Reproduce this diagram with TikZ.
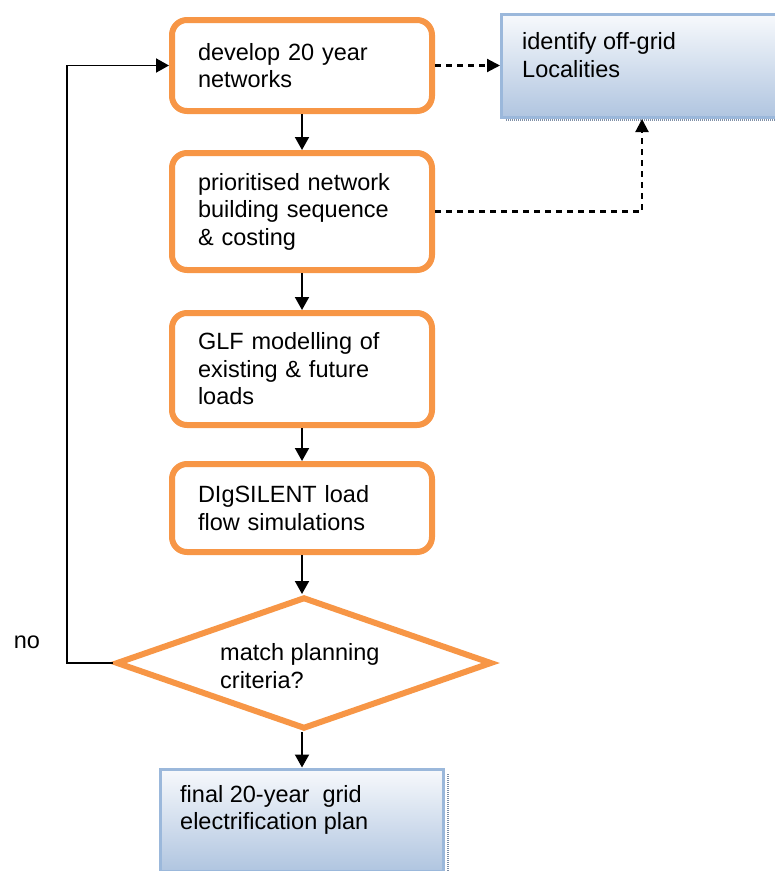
\documentclass[tikz,border=0pt]{standalone}
\usepackage{fontspec}
\setmainfont{Liberation Sans}
\usetikzlibrary{arrows.meta,shapes.geometric,calc}
\definecolor{orangeline}{HTML}{F79646}
\definecolor{bluetop}{HTML}{F7F9FC}
\definecolor{bluebot}{HTML}{B0C5E0}
\definecolor{blueline}{HTML}{9BB8DB}
\definecolor{shadowgray}{HTML}{7F8FA6}
\begin{document}
\begin{tikzpicture}[x=1pt,y=-1pt,
  every node/.style={font=\fontsize{23.5}{27.5}\selectfont},
  obox/.style={draw=orangeline, line width=6pt, rounded corners=15pt, fill=white,
    minimum width=260pt, text width=208pt, inner xsep=26pt, inner ysep=0pt, align=left},
  bbox/.style={draw=blueline, line width=3pt, shading=axis, top color=bluetop, bottom color=bluebot, inner sep=0pt},
  txt/.style={align=left, inner sep=0pt},
  arr/.style={line width=1.9pt, -{Triangle[length=13pt,width=14pt]}},
  darr/.style={line width=2.1pt, dash pattern=on 6pt off 5pt, -{Triangle[length=13pt,width=13pt]}},
  shad/.style={shadowgray, line width=2pt, dash pattern=on 1pt off 1pt}
]
\useasboundingbox (0,0) rectangle (775,871);

% orange process boxes
\node[obox, minimum height=91pt] (b1) at (302,65.5) {develop 20 year\\networks};
\node[obox, minimum height=117pt] (b2) at (302,211.5) {prioritised network\\building sequence\\\& costing};
\node[obox, minimum height=112pt] (b3) at (302,369) {GLF modelling of\\existing \& future\\loads};
\node[obox, minimum height=88pt] (b4) at (302,508) {DIgSILENT load\\flow simulations};

% decision diamond
\node[diamond, draw=orangeline, line width=6pt, fill=white, minimum width=376pt, minimum height=132pt, aspect=2.85, inner sep=0pt] (dia) at (304,663) {};
\node[txt, anchor=west] (diat) at (220,666) {match planning\\criteria?};

% blue boxes
\draw[shad] (506,120) -- (775,120);
\node[bbox, minimum width=300pt, minimum height=103pt] (og) at (651.5,66) {};
\node[txt, anchor=west] (ogt) at (522,55) {identify off-grid\\Localities};

\draw[shad] (447.5,774) -- (447.5,871);
\node[bbox, minimum width=283pt, minimum height=102pt] (fin) at (302,820) {};
\node[txt, anchor=west] (fint) at (180,810) {final 20-year\ \ grid\\electrification plan};

% label
\node[txt] (no) at (27,642) {no};

% connectors
\draw[arr] (b1.south) -- (b2.north);
\draw[arr] (b2.south) -- (b3.north);
\draw[arr] (b3.south) -- (b4.north);
\draw[arr] (b4.south) -- (dia.north -| b4.south);
\draw[arr] (dia.south -| b4.south) -- (fin.north);

\coordinate (loop) at (67,663);
\draw[arr] (dia.west) -- (loop) |- (b1.west);

\draw[darr] (b1.east) -- (og.west |- b1.east);
\coordinate (ogin) at (642,119);
\draw[darr] (b2.east) -| (ogin);
\end{tikzpicture}
\end{document}
